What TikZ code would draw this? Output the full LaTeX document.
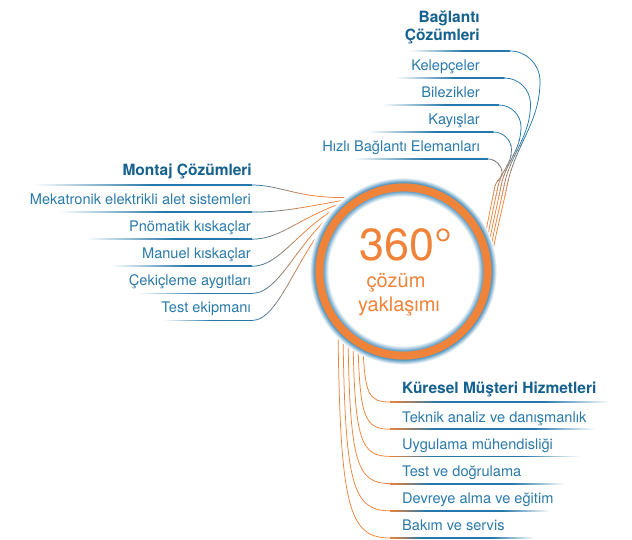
\documentclass[tikz,border=0pt]{standalone}
\usepackage{fontspec}
\setmainfont{TeX Gyre Heros}
\usetikzlibrary{calc}
\definecolor{orng}{RGB}{240,131,58}
\definecolor{lblue}{RGB}{38,120,170}
\definecolor{tblue}{RGB}{42,122,170}
\definecolor{hblue}{RGB}{20,96,142}
\definecolor{halo}{RGB}{70,142,188}
\colorlet{hin}{halo!85!white}
\pgfdeclarehorizontalshading{fadeinline}{100bp}{color(0bp)=(white); color(25bp)=(white); color(52bp)=(lblue); color(75bp)=(lblue); color(100bp)=(lblue)}
\pgfdeclarehorizontalshading{botline}{100bp}{color(0bp)=(orng); color(25bp)=(orng); color(36bp)=(lblue); color(60bp)=(lblue); color(75bp)=(white); color(100bp)=(white)}
\pgfdeclareradialshading{ringshade}{\pgfpoint{0bp}{0bp}}{color(0bp)=(white); color(19.81bp)=(white); color(21.22bp)=(hin); color(21.28bp)=(orng); color(23.40bp)=(orng); color(23.46bp)=(halo); color(24.87bp)=(white); color(25bp)=(white); color(50bp)=(white)}
\tikzset{
  conn/.style={line width=0.75pt},
  itm/.style={inner sep=0pt, text=tblue, font=\fontsize{14.6}{17}\selectfont},
  hd/.style={inner sep=0pt, text=hblue, font=\fontsize{15.5}{18}\selectfont\bfseries},
  ctr/.style={inner sep=0pt, text=orng, anchor=base},
}
\newcommand\TopCurves[1]{%
  \foreach \k in {0,...,4}{%
    \pgfmathsetmacro\yy{51+27*\k}%
    \pgfmathsetmacro\xh{510-5.5*\k}%
    \pgfmathsetmacro\xv{540-9.5*\k}%
    \pgfmathsetmacro\yc{\yy+\xv-\xh}%
    \pgfmathsetmacro\hh{186-\yc}%
    \pgfmathsetmacro\bx{507-3*\k}%
    \pgfmathsetmacro\ex{492-2.6*\k}%
    \draw[conn,#1] (Th\k) .. controls ({\xh+0.55*(\xv-\xh)},\yy) and (\xv,{\yc-0.55*(\xv-\xh)}) .. (\xv,\yc)
      .. controls (\xv,{\yc+0.4*\hh}) and ({\bx+0.08*\hh},{186-0.4*\hh}) .. (\bx,186)
      .. controls (\bx-5,211) and (\ex+3,236) .. (Te\k);
  }}
\newcommand\LeftCurves[1]{%
  \foreach \k in {0,...,5}{%
    \pgfmathsetmacro\yy{185+27.1*\k}%
    \draw[conn,#1] (Lh\k) .. controls (282,\yy) and (300,{200+8*\k}) .. (Le\k);
  }}
\begin{document}
\begin{tikzpicture}[x=1pt,y=-1pt]
\useasboundingbox (0,0) rectangle (632,539);
\fill[white] (0,0) rectangle (632,539);
\coordinate (C) at (403,271);
% named end points
\foreach \k in {0,...,4}{
  \pgfmathsetmacro\yy{51+27*\k}
  \coordinate (Ts\k) at ({410-14.25*\k},\yy);
  \coordinate (Th\k) at ({510-5.5*\k},\yy);
  \coordinate (Te\k) at ({492-2.6*\k},257);
}
\foreach \k in {0,...,5}{
  \pgfmathsetmacro\yy{185+27.1*\k}
  \pgfmathsetmacro\th{123+1.5*\k}
  \coordinate (Ls\k) at ({33+26*\k},\yy);
  \coordinate (Lh\k) at (252,\yy);
  \coordinate (Le\k) at ({403+88*cos(\th)},{271-88*sin(\th)});
}
\foreach \k in {0,...,5}{
  \pgfmathsetmacro\yy{402+27.2*\k}
  \pgfmathsetmacro\sx{363-5*\k}
  \pgfmathsetmacro\sy{271+sqrt(7396-(403-\sx)*(403-\sx))}
  \coordinate (Bs\k) at (\sx,\sy);
  \coordinate (Bh\k) at (390,\yy);
  \coordinate (Be\k) at ({610-15*\k},\yy);
}
% horizontal rules
\foreach \k in {0,...,4}
  \shade[shading=fadeinline] ($(Ts\k)+(0,-0.4)$) rectangle ($(Th\k)+(0,0.4)$);
\foreach \k in {0,...,5}
  \shade[shading=fadeinline] ($(Ls\k)+(0,-0.4)$) rectangle ($(Lh\k)+(0,0.4)$);
\foreach \k in {0,...,5}
  \shade[shading=botline] ($(Bh\k)+(0,-0.4)$) rectangle ($(Be\k)+(0,0.4)$);
% top connectors, blue to orange downwards (one colour per band)
\begin{scope}
  \clip (0,0) rectangle (632,140.3);
  \TopCurves{lblue}
\end{scope}
\foreach \j in {1,...,11}{
  \pgfmathtruncatemacro\pc{\j*100/12}
  \begin{scope}
    \clip (0,{135+5*\j}) rectangle (632,{140.3+5*\j});
    \TopCurves{orng!\pc!lblue}
  \end{scope}
}
\begin{scope}
  \clip (0,195) rectangle (632,539);
  \TopCurves{orng}
\end{scope}
% left connectors, blue to orange rightwards
\begin{scope}
  \clip (0,0) rectangle (256.8,539);
  \LeftCurves{lblue}
\end{scope}
\foreach \j in {1,...,11}{
  \pgfmathtruncatemacro\pc{\j*100/12}
  \begin{scope}
    \clip ({252+4.5*\j},0) rectangle ({256.8+4.5*\j},539);
    \LeftCurves{orng!\pc!lblue}
  \end{scope}
}
\begin{scope}
  \clip (306,0) rectangle (632,539);
  \LeftCurves{orng}
\end{scope}
% bottom connectors
\foreach \k in {0,...,5}{
  \pgfmathsetmacro\yy{402+27.2*\k}
  \pgfmathsetmacro\sx{363-5*\k}
  \pgfmathsetmacro\sy{271+sqrt(7396-(403-\sx)*(403-\sx))}
  \draw[conn,orng] (Bs\k) .. controls ({\sx+2},{\sy+0.85*(\yy-\sy)}) and ({\sx+0.2*(390-\sx)},\yy) .. (Bh\k);
}
% ring
\shade[shading=ringshade] (C) circle (94pt);
\node[ctr, font=\fontsize{45}{50}\selectfont] (n360) at (406,260) {360°};
\node[ctr, font=\fontsize{20}{24}\selectfont] (ncoz) at (396,287) {çözüm};
\node[ctr, font=\fontsize{20}{24}\selectfont] (nyak) at (399,311.5) {yaklaşımı};
% top texts
\node[hd, anchor=base east] (bag1) at (480,22) {Bağlantı};
\node[hd, anchor=base east] (bag2) at (480,40) {Çözümleri};
\node[itm, anchor=base east] (t1) at (480,70.5) {Kelepçeler};
\node[itm, anchor=base east] (t2) at (480,97.5) {Bilezikler};
\node[itm, anchor=base east] (t3) at (480,124.5) {Kayışlar};
\node[itm, anchor=base east] (t4) at (480,151.5) {Hızlı Bağlantı Elemanları};
% left texts
\node[hd, anchor=base east] (mon) at (252,175.5) {Montaj Çözümleri};
\node[itm, anchor=base east] (l1) at (251,204) {Mekatronik elektrikli alet sistemleri};
\node[itm, anchor=base east] (l2) at (251,231) {Pnömatik kıskaçlar};
\node[itm, anchor=base east] (l3) at (251,258) {Manuel kıskaçlar};
\node[itm, anchor=base east] (l4) at (251,285.5) {Çekiçleme aygıtları};
\node[itm, anchor=base east] (l5) at (251,312.5) {Test ekipmanı};
% bottom texts
\node[hd, anchor=base west] (kur) at (402,393.5) {Küresel Müşteri Hizmetleri};
\node[itm, anchor=base west] (b1) at (402,422.5) {Teknik analiz ve danışmanlık};
\node[itm, anchor=base west] (b2) at (402,449.5) {Uygulama mühendisliği};
\node[itm, anchor=base west] (b3) at (402,476.5) {Test ve doğrulama};
\node[itm, anchor=base west] (b4) at (402,503.5) {Devreye alma ve eğitim};
\node[itm, anchor=base west] (b5) at (402,530.5) {Bakım ve servis};
\end{tikzpicture}
\end{document}
